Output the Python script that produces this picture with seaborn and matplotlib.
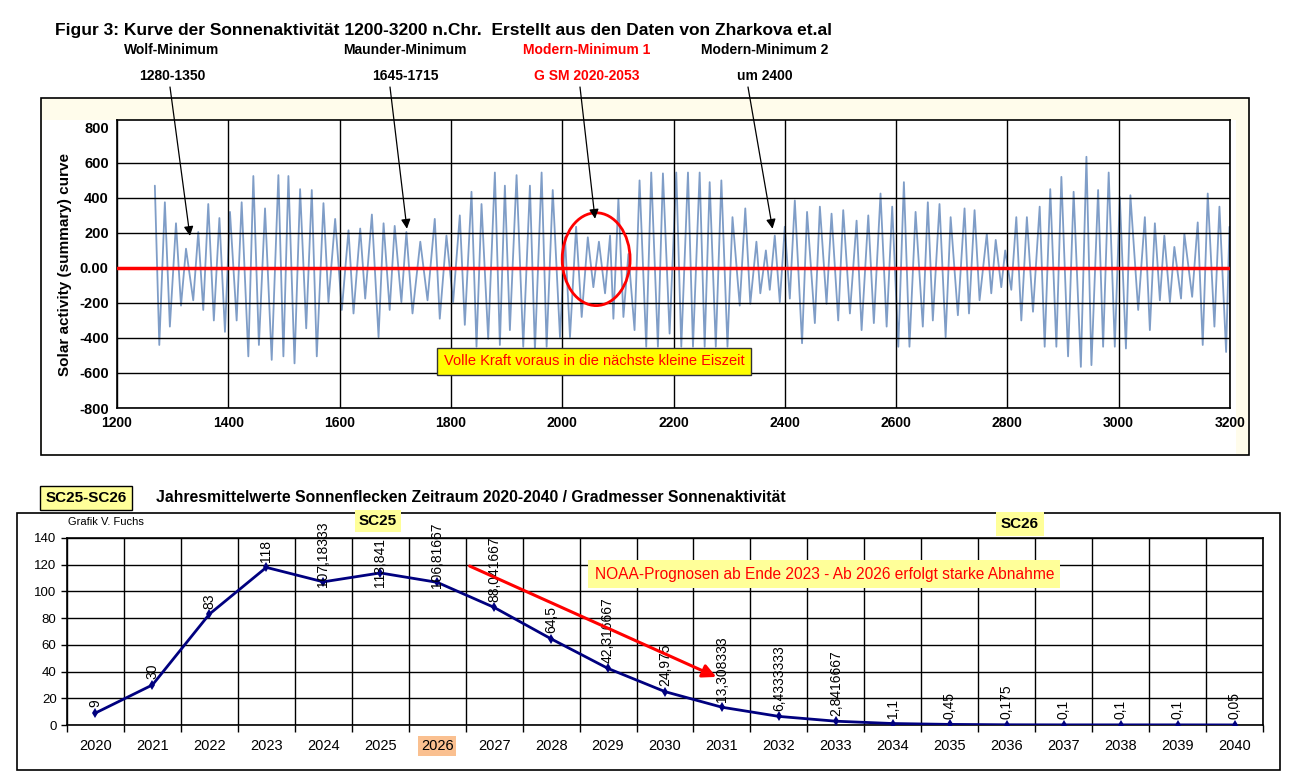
import matplotlib
matplotlib.use("Agg")
import matplotlib.pyplot as plt
from matplotlib.patches import Ellipse, Rectangle
import seaborn as sns

# ---------------- data: solar activity curve ----------------
curve_years = [1268, 1276, 1286, 1295, 1306, 1315, 1324, 1337, 1346, 1355,
               1364, 1374, 1384, 1394, 1403, 1415, 1424, 1436, 1445, 1455,
               1466, 1478, 1490, 1499, 1508, 1519, 1529, 1540, 1550, 1559,
               1571, 1580, 1592, 1604, 1616, 1625, 1637, 1646, 1658, 1670,
               1679, 1690, 1699, 1711, 1720, 1731, 1745, 1758, 1771, 1780,
               1792, 1804, 1816, 1825, 1837, 1846, 1855, 1867, 1879, 1888,
               1897, 1906, 1918, 1930, 1942, 1951, 1963, 1972, 1983, 1996,
               2005, 2014, 2025, 2035, 2046, 2056, 2066, 2077, 2086, 2092,
               2101, 2110, 2119, 2130, 2139, 2151, 2160, 2172, 2181, 2193,
               2205, 2214, 2226, 2235, 2247, 2256, 2265, 2276, 2286, 2297,
               2306, 2319, 2329, 2338, 2349, 2356, 2366, 2373, 2382, 2391,
               2400, 2409, 2418, 2431, 2440, 2454, 2463, 2475, 2484, 2496,
               2505, 2517, 2529, 2538, 2550, 2560, 2572, 2583, 2593, 2604,
               2614, 2624, 2635, 2648, 2657, 2666, 2678, 2689, 2698, 2711,
               2723, 2731, 2741, 2750, 2763, 2771, 2779, 2789, 2796, 2807,
               2816, 2825, 2835, 2846, 2858, 2867, 2877, 2888, 2897, 2909,
               2919, 2932, 2942, 2951, 2963, 2972, 2982, 2993, 3002, 3013,
               3021, 3035, 3047, 3056, 3065, 3074, 3082, 3092, 3100, 3112,
               3118, 3132, 3142, 3151, 3160, 3172, 3181, 3193, 3199]
curve_values = [470, -440, 375, -335, 255, -215, 110, -185, 205, -240,
                365, -300, 285, -365, 320, -300, 375, -505, 525, -440,
                340, -525, 530, -505, 525, -545, 450, -345, 445, -505,
                370, -195, 280, -240, 215, -260, 225, -175, 305, -395,
                255, -240, 240, -195, 205, -260, 150, -185, 280, -290,
                185, -195, 300, -325, 435, -450, 365, -405, 545, -440,
                470, -355, 530, -450, 470, -470, 545, -450, 445, -395,
                175, -395, 235, -280, 175, -110, 150, -145, 185, -290,
                395, -280, 80, -355, 500, -450, 545, -450, 540, -375,
                545, -450, 545, -450, 545, -450, 490, -450, 500, -450,
                290, -215, 340, -205, 150, -145, 100, -125, 185, -195,
                235, -175, 385, -430, 320, -315, 350, -205, 310, -300,
                330, -260, 270, -355, 300, -315, 425, -335, 350, -450,
                490, -450, 320, -335, 375, -300, 365, -395, 290, -270,
                340, -260, 330, -185, 195, -145, 160, -110, 100, -125,
                290, -300, 290, -250, 350, -450, 450, -450, 520, -505,
                435, -565, 635, -555, 445, -450, 545, -450, 405, -460,
                415, -240, 290, -355, 255, -185, 185, -195, 120, -175,
                195, -165, 260, -440, 425, -335, 350, -480, 235]

# ---------------- data: yearly sunspot means 2020-2040 ----------------
sc_years = [str(y) for y in range(2020, 2041)]
sc_values = [9, 30, 83, 118, 107.18333, 113.841, 106.81667, 88.041667, 64.5,
             42.316667, 24.975, 13.308333, 6.4333333, 2.8416667, 1.1, 0.45,
             0.175, 0.1, 0.1, 0.1, 0.05]
sc_labels = ["9", "30", "83", "118", "107,18333", "113,841", "106,81667",
             "88,041667", "64,5", "42,316667", "24,975", "13,308333",
             "6,4333333", "2,8416667", "1,1", "0,45", "0,175", "0,1", "0,1",
             "0,1", "0,05"]

W, H = 1290, 784

sns.set_style("white")
plt.rcParams["font.family"] = ["Liberation Sans", "DejaVu Sans"]
plt.rcParams["text.color"] = "black"
plt.rcParams["axes.labelcolor"] = "black"
plt.rcParams["xtick.color"] = "black"
plt.rcParams["ytick.color"] = "black"

fig = plt.figure(figsize=(W / 100, H / 100), dpi=100)
fig.patch.set_facecolor("white")


def fx(px):
    return px / W


def fy(py):
    return 1 - py / H


# frames / backgrounds in pixel layout
fig.patches.append(Rectangle((fx(41), fy(455)), fx(1249) - fx(41), fy(98) - fy(455),
                             transform=fig.transFigure, facecolor="#FFFCEB",
                             edgecolor="black", lw=1.2, zorder=-3))
fig.patches.append(Rectangle((fx(42), fy(454)), fx(1236) - fx(42), fy(120) - fy(454),
                             transform=fig.transFigure, facecolor="white",
                             edgecolor="none", zorder=-2))
fig.patches.append(Rectangle((fx(17), fy(770)), fx(1280) - fx(17), fy(513) - fy(770),
                             transform=fig.transFigure, facecolor="none",
                             edgecolor="black", lw=1.2, zorder=-2))

# ================= top chart =================
ax1 = fig.add_axes([fx(117), fy(408), fx(1230) - fx(117), fy(120) - fy(408)])
sns.lineplot(x=curve_years, y=curve_values, ax=ax1, color="#7F9DC7", lw=1.3, zorder=2)
ax1.axhline(0, color="red", lw=2.5, zorder=4)
ax1.set_xlim(1200, 3200)
ax1.set_ylim(-800, 845)
ax1.set_xticks(range(1200, 3201, 200))
ax1.set_yticks(range(-800, 801, 200))
ax1.set_yticklabels(["0.00" if v == 0 else str(v) for v in range(-800, 801, 200)],
                    fontweight="bold", fontsize=10.5)
ax1.set_xticklabels([str(v) for v in range(1200, 3201, 200)], fontweight="bold", fontsize=10)
ax1.tick_params(length=0, pad=6)
ax1.grid(True, color="black", lw=1)
ax1.set_axisbelow(False)
for gl in ax1.get_ygridlines()[-1:]:
    gl.set_visible(False)
for s in ax1.spines.values():
    s.set_color("black")
    s.set_linewidth(1.2)
ax1.set_ylabel("Solar activity (summary) curve", fontweight="bold", fontsize=11, labelpad=5)

ax1.add_patch(Ellipse((2061, 50), 122, 530, facecolor="none", edgecolor="red", lw=2, zorder=5))
ax1.text(2057, -533, "Volle Kraft voraus in die nächste kleine Eiszeit", color="red",
         fontsize=10.5, ha="center", va="center", zorder=6,
         bbox=dict(facecolor="yellow", edgecolor="#333333", boxstyle="square,pad=0.45"))

# minima annotations
minima = [("Wolf-Minimum", "1280-1350", 172, 1331, 183, "black"),
          ("Maunder-Minimum", "1645-1715", 405, 1721, 224, "black"),
          ("Modern-Minimum 1", "G SM 2020-2053", 587, 2059, 281, "red"),
          ("Modern-Minimum 2", "um 2400", 765, 2378, 224, "black")]
for name, period, px, yr, val, col in minima:
    fig.text(fx(px), fy(50), name, color=col, fontsize=10, fontweight="bold",
             ha="center", va="center")
    fig.text(fx(px), fy(76), period, color=col, fontsize=10, fontweight="bold",
             ha="center", va="center")
ann_start = [(170, 87), (390, 87), (580, 87), (748, 87)]
for (name, period, px, yr, val, col), (sx, sy) in zip(minima, ann_start):
    ax1.annotate("", xy=(yr, val), xycoords="data",
                 xytext=(fx(sx), fy(sy)), textcoords="figure fraction",
                 arrowprops=dict(arrowstyle="-|>", color="black", lw=0.9,
                                 mutation_scale=14, shrinkA=0, shrinkB=0),
                 zorder=7, annotation_clip=False)

fig.text(fx(55), fy(30), "Figur 3: Kurve der Sonnenaktivität 1200-3200 n.Chr.  Erstellt aus den Daten von Zharkova et.al",
         fontsize=12.5, fontweight="bold", ha="left", va="center")

# ================= bottom chart =================
fig.text(fx(86), fy(498), "SC25-SC26", fontsize=11, fontweight="bold",
         ha="center", va="center",
         bbox=dict(facecolor="#FFFF99", edgecolor="black", boxstyle="square,pad=0.35"))
fig.text(fx(156), fy(498), "Jahresmittelwerte Sonnenflecken Zeitraum 2020-2040 / Gradmesser Sonnenaktivität",
         fontsize=11.3, fontweight="bold", ha="left", va="center")

ax2 = fig.add_axes([fx(67), fy(725), fx(1263) - fx(67), fy(538) - fy(725)])
pos = list(range(len(sc_years)))
sns.lineplot(x=pos, y=sc_values, ax=ax2, color="#00007F", lw=2, marker="d",
             markersize=5, markeredgewidth=0, zorder=4)
ax2.set_xlim(-0.5, len(sc_years) - 0.5)
ax2.set_ylim(0, 140)
ax2.set_yticks(range(0, 141, 20))
ax2.set_xticks(pos)
ax2.set_xticklabels(sc_years, fontsize=10.5)
ax2.set_xticks([p - 0.5 for p in pos] + [len(pos) - 0.5], minor=True)
ax2.tick_params(axis="x", which="major", length=0, pad=10)
ax2.tick_params(axis="x", which="minor", length=5, width=1, color="black", direction="out", bottom=True)
ax2.tick_params(axis="y", length=4, width=1, color="black", direction="out", left=True, labelsize=9.5)
ax2.grid(False)
ax2.grid(True, which="minor", axis="x", color="black", lw=1)
ax2.grid(True, which="major", axis="y", color="black", lw=1)
ax2.set_axisbelow(True)
for s in ax2.spines.values():
    s.set_color("black")
    s.set_linewidth(1.2)
for lbl in ax2.get_xticklabels():
    if lbl.get_text() == "2026":
        lbl.set_bbox(dict(facecolor="#FAC090", edgecolor="none", pad=2))

# value labels; the long ones near the top are pushed down onto the line, as in the original
label_offsets = {4: -4, 5: -10, 6: -4}
for p, v, lab in zip(pos, sc_values, sc_labels):
    ax2.annotate(lab, (p, v), xytext=(0, label_offsets.get(p, 4)), textcoords="offset points",
                 rotation=90, ha="center", va="bottom", fontsize=10, zorder=5,
                 annotation_clip=False)

ax2.annotate("", xy=(10.9, 36), xytext=(6.57, 119),
             arrowprops=dict(arrowstyle="-|>", color="red", lw=2.2, mutation_scale=20,
                             shrinkA=0, shrinkB=0), zorder=6)
ax2.text(12.8, 113, "NOAA-Prognosen ab Ende 2023 - Ab 2026 erfolgt starke Abnahme",
         color="red", fontsize=11.2, ha="center", va="center", zorder=6,
         bbox=dict(facecolor="#FFFF99", edgecolor="none", boxstyle="square,pad=0.4"))

fig.text(fx(68), fy(522), "Grafik V. Fuchs", fontsize=8, ha="left", va="center")
fig.text(fx(378), fy(521), "SC25", fontsize=11, fontweight="bold",
         ha="center", va="center",
         bbox=dict(facecolor="#FFFF99", edgecolor="none", boxstyle="square,pad=0.25"))
fig.text(fx(1020), fy(524), "SC26", fontsize=11, fontweight="bold",
         ha="center", va="center",
         bbox=dict(facecolor="#FFFF99", edgecolor="none", boxstyle="square,pad=0.3"))

fig.savefig("out.png", dpi=100)
